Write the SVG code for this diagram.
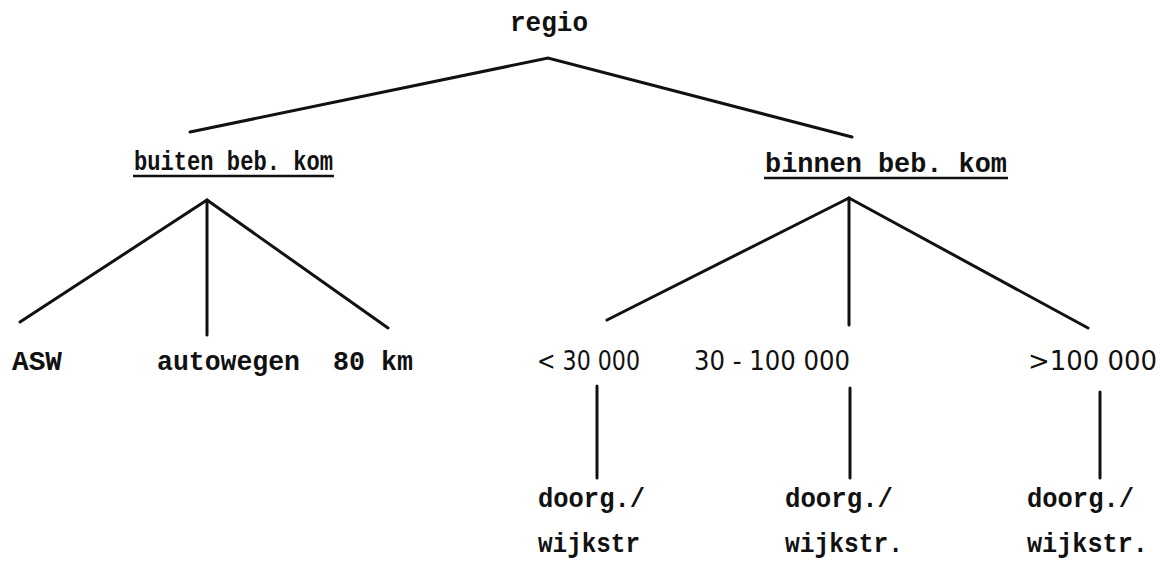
<svg xmlns="http://www.w3.org/2000/svg" width="1160" height="563" viewBox="0 0 1160 563">
<style>
.t{font-family:"Liberation Mono","DejaVu Sans Mono",monospace;font-size:27px;fill:#111;font-weight:bold}
.n{font-family:"DejaVu Sans","Liberation Sans",sans-serif;font-size:27px;fill:#111}
.c{stroke:#111;stroke-width:3;fill:none;stroke-linecap:round}
.u{stroke:#111;stroke-width:2.5}
</style>
<rect width="1160" height="563" fill="#fff"/>
<g id="connectors" class="c">
<polyline points="190,132 548,58 852,137"/>
<line x1="207" y1="200" x2="20" y2="322"/>
<line x1="207" y1="200" x2="207" y2="335"/>
<line x1="207" y1="200" x2="388" y2="328"/>
<line x1="849" y1="198" x2="607" y2="320"/>
<line x1="849" y1="198" x2="849" y2="325"/>
<line x1="849" y1="198" x2="1088" y2="328"/>
<line x1="597" y1="386" x2="597" y2="478"/>
<line x1="850" y1="388" x2="850" y2="478"/>
<line x1="1100" y1="392" x2="1100" y2="478"/>
</g>
<g id="regio"><text class="t" x="510" y="31" textLength="78" lengthAdjust="spacingAndGlyphs">regio</text></g>
<g id="buiten"><text class="t" x="134" y="170" textLength="199" lengthAdjust="spacingAndGlyphs">buiten beb. kom</text><line class="u" x1="133" y1="176" x2="334" y2="176"/></g>
<g id="binnen"><text class="t" x="765" y="172" textLength="242" lengthAdjust="spacingAndGlyphs">binnen beb. kom</text><line class="u" x1="764" y1="178" x2="1008" y2="178"/></g>
<g id="asw"><text class="t" x="12" y="370" textLength="50" lengthAdjust="spacingAndGlyphs">ASW</text></g>
<g id="autowegen"><text class="t" x="157" y="370" textLength="143" lengthAdjust="spacingAndGlyphs">autowegen</text></g>
<g id="km80"><text class="t" x="333" y="370" textLength="80" lengthAdjust="spacingAndGlyphs">80 km</text></g>
<g id="lt30"><text class="n" x="537" y="370" textLength="103" lengthAdjust="spacingAndGlyphs">&lt; 30 000</text></g>
<g id="mid"><text class="n" x="694" y="370" textLength="156" lengthAdjust="spacingAndGlyphs">30 - 100 000</text></g>
<g id="gt100"><text class="n" x="1028" y="370" textLength="129" lengthAdjust="spacingAndGlyphs">&gt;100 000</text></g>
<g id="d1"><text class="t" x="538" y="507" textLength="107" lengthAdjust="spacingAndGlyphs">doorg./</text><text class="t" x="538" y="552" textLength="102" lengthAdjust="spacingAndGlyphs">wijkstr</text></g>
<g id="d2"><text class="t" x="785" y="507" textLength="108" lengthAdjust="spacingAndGlyphs">doorg./</text><text class="t" x="785" y="552" textLength="118" lengthAdjust="spacingAndGlyphs">wijkstr.</text></g>
<g id="d3"><text class="t" x="1027" y="507" textLength="107" lengthAdjust="spacingAndGlyphs">doorg./</text><text class="t" x="1027" y="552" textLength="121" lengthAdjust="spacingAndGlyphs">wijkstr.</text></g>
</svg>
